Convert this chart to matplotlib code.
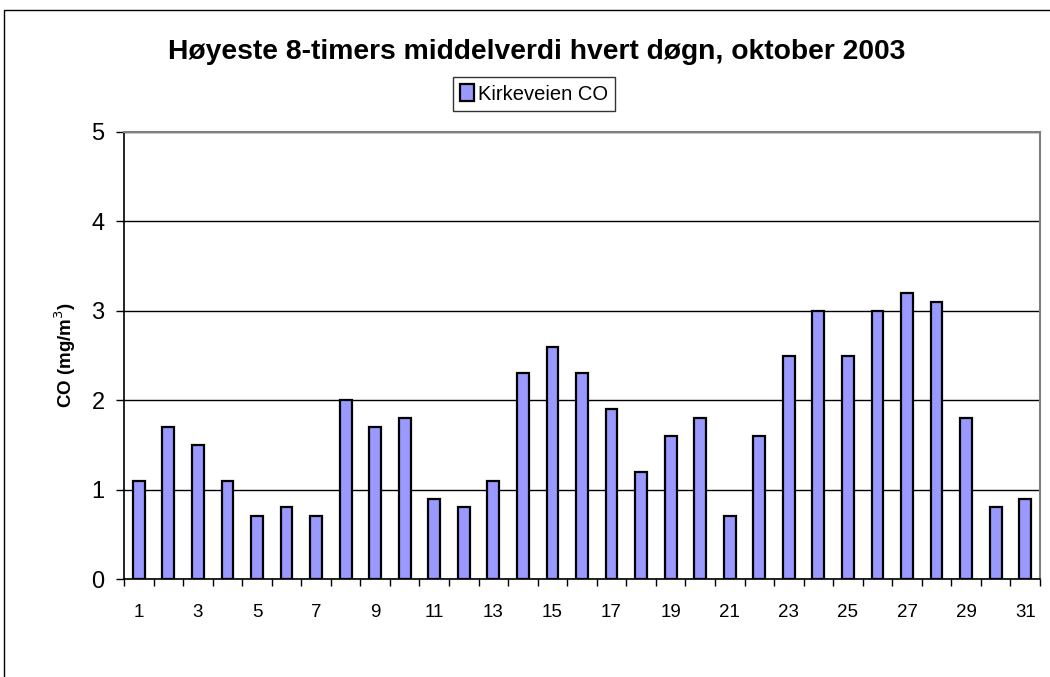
import matplotlib
matplotlib.use("Agg")
import matplotlib.pyplot as plt
from matplotlib.patches import Rectangle

days = list(range(1, 32))
co_values = [1.1, 1.7, 1.5, 1.1, 0.7, 0.8, 0.7, 2.0, 1.7, 1.8, 0.9, 0.8, 1.1, 2.3, 2.6,
             2.3, 1.9, 1.2, 1.6, 1.8, 0.7, 1.6, 2.5, 3.0, 2.5, 3.0, 3.2, 3.1, 1.8, 0.8, 0.9]
xtick_labels = [str(d) if d % 2 == 1 else "" for d in days]
yticks = [0, 1, 2, 3, 4, 5]
title = "Høyeste 8-timers middelverdi hvert døgn, oktober 2003"
series_name = "Kirkeveien CO"

plt.rcParams['font.family'] = ['Liberation Sans', 'DejaVu Sans']

fig = plt.figure(figsize=(10.5, 6.77), dpi=100)
fig.patches.append(Rectangle((4/1050, -0.1), 1.2, 1 - 10/677 + 0.1, transform=fig.transFigure,
                             fill=False, edgecolor='black', linewidth=1.0))
ax = fig.add_axes([124/1050, 98/677, 916/1050, 447/677])

bars = ax.bar(days, co_values, width=0.4, color='#9999FF', edgecolor='black', linewidth=1.6,
              label=series_name, zorder=3)
ax.set_xlim(0.5, 31.5)
ax.set_ylim(0, 5)
ax.set_yticks(yticks)
ax.set_yticklabels([str(y) for y in yticks], fontsize=17)
ax.set_xticks(days)
ax.set_xticklabels(xtick_labels, fontsize=13.5)
ax.tick_params(axis='x', length=0, pad=18)
# category boundary ticks
ax.set_xticks([d + 0.5 for d in [0] + days], minor=True)
ax.tick_params(axis='x', which='minor', length=5, width=1, direction='out', color='black')
ax.tick_params(axis='y', length=6, width=1, direction='out', pad=8)
ax.yaxis.grid(True, color='black', linewidth=1.0, zorder=0)
ax.set_axisbelow(True)
for s in ['top', 'right']:
    ax.spines[s].set_color('#808080')
    ax.spines[s].set_linewidth(1.5)
for s in ['left', 'bottom']:
    ax.spines[s].set_color('black')
    ax.spines[s].set_linewidth(1.2)

ax.set_ylabel("CO (mg/m$^3$)", fontsize=13.5, fontweight='bold', labelpad=10)

fig.text(537/1050, 1 - 52/677, title, ha='center', va='center', fontsize=20.3, fontweight='bold')
leg = fig.legend(handles=[bars], labels=[series_name], loc='center',
                 bbox_to_anchor=(534/1050, 1 - 94/677), fontsize=14.5, frameon=True,
                 fancybox=False, edgecolor='black', handlelength=0.7, handleheight=0.9,
                 handletextpad=0.2, borderpad=0.35, borderaxespad=0)
leg.get_frame().set_linewidth(1.0)
leg.set_zorder(5)

fig.savefig("out.png", dpi=100)
